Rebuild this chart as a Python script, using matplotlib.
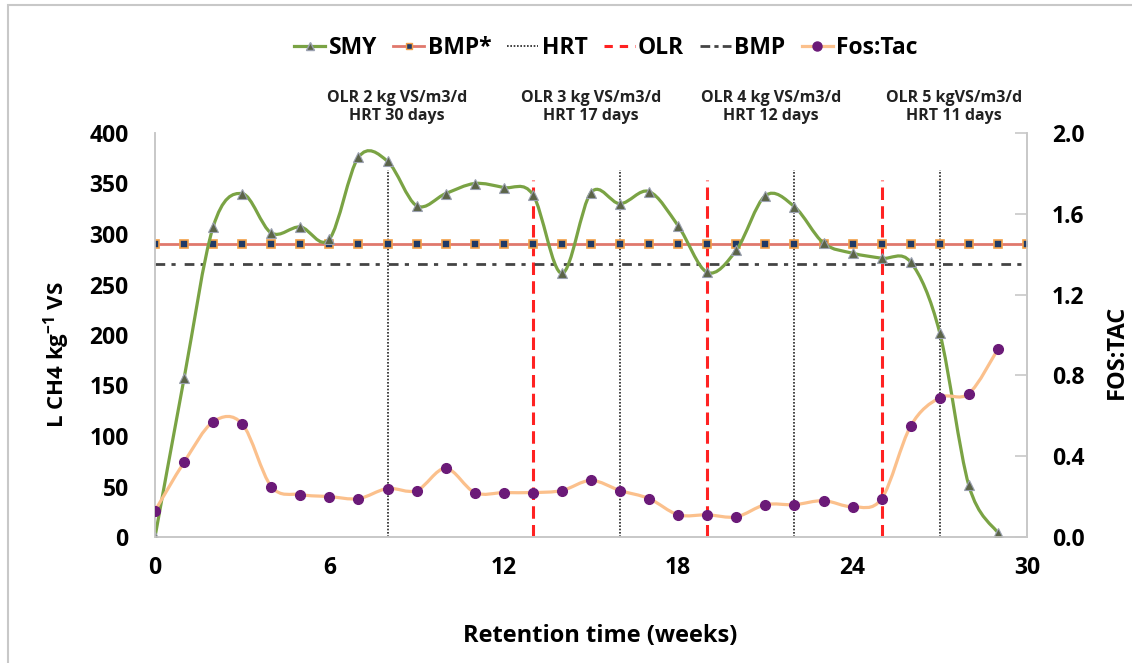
import numpy as np
import matplotlib
matplotlib.use('Agg')
import matplotlib.pyplot as plt
from matplotlib.path import Path
from matplotlib.patches import PathPatch, Rectangle
from matplotlib.lines import Line2D

plt.rcParams['font.family'] = ['Open Sans', 'DejaVu Sans']
plt.rcParams['font.weight'] = 'bold'
plt.rcParams['mathtext.fontset'] = 'custom'
plt.rcParams['mathtext.rm'] = 'Open Sans:bold'
plt.rcParams['mathtext.default'] = 'rm'
plt.rcParams['lines.scale_dashes'] = False

# data
weeks = list(range(30))
smy = [0, 157, 307, 340, 301, 307, 295, 376, 372, 328, 340, 350, 346, 339, 261,
       341, 330, 342, 308, 262, 284, 338, 327, 291, 281, 276, 272, 202, 51, 4]
fos_tac = [0.13, 0.37, 0.57, 0.56, 0.25, 0.21, 0.20, 0.19, 0.24, 0.23, 0.34, 0.22,
           0.22, 0.22, 0.23, 0.28, 0.23, 0.19, 0.11, 0.11, 0.10, 0.16, 0.16, 0.18,
           0.15, 0.19, 0.55, 0.69, 0.71, 0.93]
bmp_weeks = list(range(31))
bmp_star = 290
bmp = 270
hrt_weeks = [8, 16, 22, 27]
hrt_top = 363
olr_weeks = [13, 19, 25]
olr_top = 353
notes = ['OLR 2 kg VS/m3/d\nHRT 30 days', 'OLR 3 kg VS/m3/d\nHRT 17 days',
         'OLR 4 kg VS/m3/d\nHRT 12 days', 'OLR 5 kgVS/m3/d\nHRT 11 days']
note_x = [8.33, 15.0, 21.2, 27.5]


def smooth(ax, x, y, color, lw, z):
    # Excel-style smoothed line as cubic bezier segments
    x = np.asarray(x, float)
    y = np.asarray(y, float)
    n = len(x)
    verts = [(x[0], y[0])]
    codes = [Path.MOVETO]
    for i in range(n - 1):
        a = max(i - 1, 0)
        b = min(i + 2, n - 1)
        c1 = (x[i] + (x[i + 1] - x[a]) / 6, y[i] + (y[i + 1] - y[a]) / 6)
        c2 = (x[i + 1] - (x[b] - x[i]) / 6, y[i + 1] - (y[b] - y[i]) / 6)
        verts += [c1, c2, (x[i + 1], y[i + 1])]
        codes += [Path.CURVE4] * 3
    ax.add_patch(PathPatch(Path(verts, codes), fill=False, edgecolor=color,
                           lw=lw, zorder=z, capstyle='round'))


fig = plt.figure(figsize=(11.32, 6.63), dpi=100)
ax = fig.add_axes([155 / 1132, 1 - 537 / 663, 872 / 1132, 404 / 663])
ax2 = ax.twinx()

green = '#7aa344'
salmon = '#e0786c'
peach = '#fbc08c'
purple = '#6b1a78'
grey_spine = '#c8c8c8'

# reference lines
ax.plot(bmp_weeks, [bmp_star] * len(bmp_weeks), color=salmon, lw=2, marker='s',
        ms=5.5, mfc='#1f3a66', mec='#f2a048', mew=1.2, zorder=3)
ax.plot(bmp_weeks, [bmp] * len(bmp_weeks), color='#444444', lw=2,
        dashes=(7, 4.5, 3, 6.5), zorder=3)
ax.vlines(hrt_weeks, 0, hrt_top, colors='#333333', lw=1.3,
          linestyles=[(0, (1.2, 1.2))], zorder=2)
ax.vlines(olr_weeks, 0, olr_top, colors='#ff2222', lw=2.2,
          linestyles=[(0, (9, 4.5))], zorder=2)

# SMY
smooth(ax, weeks, smy, green, 2.3, 4)
ax.plot(weeks, smy, ls='none', marker='^', ms=6.5, mfc='#5b6448', mec='#9aa0b0',
        mew=0.8, zorder=5)

# Fos:Tac on right axis
smooth(ax2, weeks, fos_tac, peach, 2.3, 4)
ax2.plot(weeks, fos_tac, ls='none', marker='o', ms=7, mfc=purple, mec=purple,
         zorder=5)

ax.set_xlim(0, 30)
ax.set_ylim(0, 400)
ax2.set_ylim(0, 2.0)
ax.set_xticks(range(0, 31, 6))
ax.set_yticks(range(0, 401, 50))
ax2.set_yticks(np.arange(0, 2.01, 0.4))
ax2.set_yticklabels(['%.1f' % v for v in np.arange(0, 2.01, 0.4)])

for a in (ax, ax2):
    for s in a.spines.values():
        s.set_color(grey_spine)
        s.set_linewidth(1.2)
    a.spines['top'].set_visible(False)
ax.tick_params(axis='x', length=0, pad=14, labelsize=16.5)
ax.tick_params(axis='y', length=0, pad=19, labelsize=16.5)
ax2.tick_params(axis='y', direction='in', length=9, color=grey_spine, width=1.2,
                pad=18, labelsize=16.5)
for lab in ax.get_xticklabels() + ax.get_yticklabels() + ax2.get_yticklabels():
    lab.set_fontweight('bold')

for t, xx in zip(notes, note_x):
    ax.text(xx, 426, t, ha='center', va='center', fontsize=11.5, fontweight='bold',
            color='#222222', linespacing=1.15, clip_on=False)

fig.text(57 / 1132, 1 - 355 / 663, 'L CH4 kg$^{-1}$ VS', rotation=90,
         ha='center', va='center', fontsize=16, fontweight='bold')
fig.text(1117 / 1132, 1 - 352 / 663, 'FOS:TAC', rotation=90,
         ha='center', va='center', fontsize=17, fontweight='bold')
fig.text(600 / 1132, 1 - 636 / 663, 'Retention time (weeks)',
         ha='center', va='center', fontsize=17, fontweight='bold')

handles = [
    Line2D([], [], color=green, lw=2.3, marker='^', ms=6, mfc='#5b6448', mec='#9aa0b0'),
    Line2D([], [], color=salmon, lw=2, marker='s', ms=5, mfc='#1f3a66', mec='#f2a048'),
    Line2D([], [], color='#333333', lw=1.3, dashes=(1.2, 1.2)),
    Line2D([], [], color='#ff2222', lw=2.2, dashes=(6, 5)),
    Line2D([], [], color='#444444', lw=2, dashes=(7, 3, 3, 3)),
    Line2D([], [], color=peach, lw=2.3, marker='o', ms=6.5, mfc=purple, mec=purple),
]
labels = ['SMY', 'BMP*', 'HRT', 'OLR', 'BMP', 'Fos:Tac']
leg = fig.legend(handles, labels, loc='center', bbox_to_anchor=(606 / 1132, 1 - 48 / 663),
                 ncol=6, frameon=False, fontsize=16.5, handlelength=1.35,
                 handletextpad=0.15, columnspacing=0.7)
for t in leg.get_texts():
    t.set_fontweight('bold')

# light frame around the chart
fig.patches.append(Rectangle((8 / 1132, -0.05), 1.2, 1 - 5 / 663 + 0.05,
                             transform=fig.transFigure, fill=False,
                             edgecolor='#c8c8c8', lw=1.5))

fig.savefig('out.png', dpi=100)
